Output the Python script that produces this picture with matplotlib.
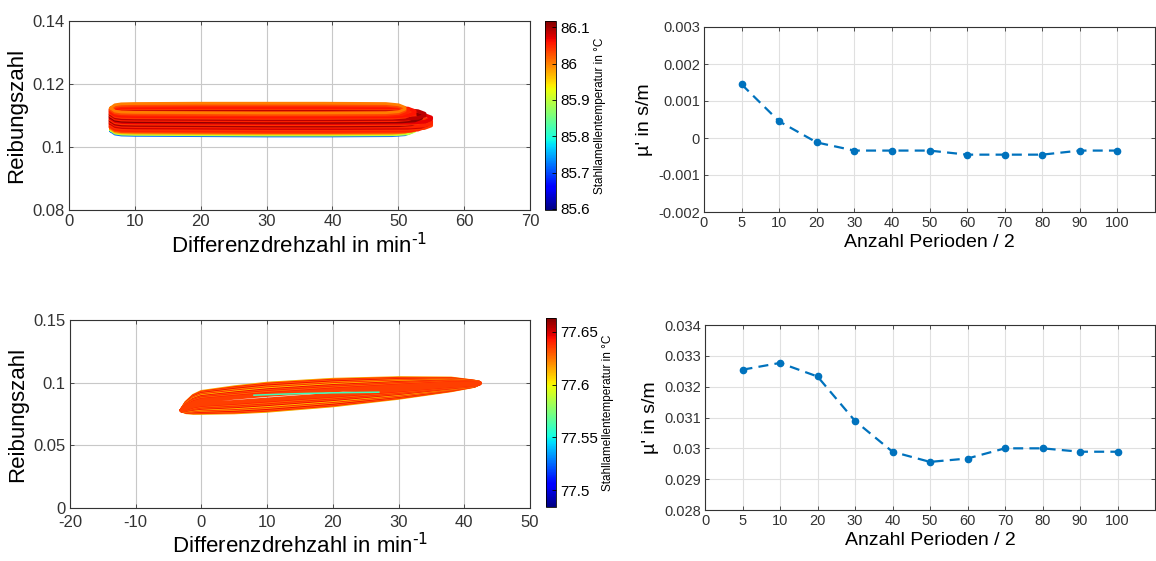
import numpy as np
import matplotlib
matplotlib.use("Agg")
import matplotlib.pyplot as plt
from matplotlib.ticker import FormatStrFormatter
from matplotlib.cm import ScalarMappable
from matplotlib.colors import Normalize

plt.rcParams['font.family'] = ['Liberation Sans', 'DejaVu Sans']
plt.rcParams['axes.unicode_minus'] = False

# --- friction loops, run 1 (one cycle outline, shifted per cycle) ---
loop1_speed = [6.3, 7.0, 8.0, 10, 20, 30, 40, 50, 52, 53]
loop1_upper = [0.1072, 0.1082, 0.1085, 0.1086, 0.1087, 0.1087, 0.1087, 0.1086, 0.1082, 0.1074]
loop1_lower = [0.1072, 0.1062, 0.1059, 0.1058, 0.1057, 0.1056, 0.1056, 0.1057, 0.1060, 0.1068]
cycle1_shift = [-0.0021, -0.0018, -0.0014, -0.0009, -0.0005, 0.0000, 0.0004, 0.0008,
                0.0012, 0.0016, 0.0020, 0.0024, 0.0028, 0.0032, 0.0036, 0.0040,
                0.0044, 0.0048, 0.0052]
cycle1_end = [52, 52.5, 52, 53, 54, 55, 54.5, 55, 53, 54, 55, 53.5, 52.5, 54, 52, 52.5,
              51.5, 51, 51]
cycle1_temp = [85.72, 85.90, 85.98, 86.03, 86.05, 86.04, 86.08, 86.05, 86.10, 86.04,
               86.07, 86.11, 86.05, 86.09, 86.04, 86.06, 86.05, 86.03, 86.00]

# --- friction loops, run 2 (outer envelope, cycles nested inside it) ---
loop2_speed = [-3.0, -2.3, -1.2, 0, 5, 10, 20, 30, 38, 41.5, 42.3]
loop2_upper = [0.0780, 0.0840, 0.0895, 0.0925, 0.0962, 0.0991, 0.1022, 0.1035, 0.1032, 0.1008, 0.0998]
loop2_lower = [0.0780, 0.0765, 0.0760, 0.0760, 0.0764, 0.0777, 0.0820, 0.0880, 0.0940, 0.0975, 0.0995]
cycle2_width = [1.04, 1.0, 0.93, 0.86, 0.79, 0.72, 0.65, 0.58, 0.51, 0.44, 0.37, 0.30, 0.24, 0.18]
cycle2_temp = [77.56, 77.615, 77.64, 77.63, 77.645, 77.62, 77.64, 77.61, 77.645, 77.63,
               77.64, 77.625, 77.64, 77.635]
inner2_speed = [8, 12, 16, 20, 24, 27]
inner2_fric = [0.0900, 0.0908, 0.0914, 0.0919, 0.0922, 0.0924]
inner2_temp = 77.56

# --- mu' versus number of periods ---
period_labels = ['0', '5', '10', '20', '30', '40', '50', '60', '70', '80', '90', '100']
mu1 = [0.00145, 0.00045, -0.00012, -0.00034, -0.00034, -0.00034, -0.00045, -0.00045,
       -0.00045, -0.00034, -0.00034]
mu2 = [0.03255, 0.03277, 0.03233, 0.03089, 0.02989, 0.02956, 0.02967, 0.03000,
       0.03000, 0.02989, 0.02989]

cmap = plt.get_cmap('jet')
blue = '#0072BD'
speed_label = 'Differenzdrehzahl in min$^{\\text{-}1}$'
W, H = 1156, 561
fig = plt.figure(figsize=(W / 100, H / 100), dpi=100)


def box(l, t, r, b):
    return [l / W, 1 - b / H, (r - l) / W, (b - t) / H]


def style_axes(ax, size):
    ax.grid(True, color='#c8c8c8', lw=0.8)
    ax.set_axisbelow(True)
    ax.tick_params(direction='in', labelsize=size, top=True, right=True,
                   length=3, width=0.6, colors='#333333', pad=3)
    for s in ax.spines.values():
        s.set_color('#333333')
        s.set_linewidth(0.8)


def colorbar(cax, norm, ticks, fmt):
    cb = fig.colorbar(ScalarMappable(norm=norm, cmap=cmap), cax=cax)
    cb.set_ticks(ticks)
    cb.ax.yaxis.set_major_formatter(FormatStrFormatter(fmt))
    cb.ax.tick_params(direction='in', labelsize=11, length=3, width=0.6, pad=3)
    cb.outline.set_linewidth(0.6)
    cb.set_label('Stahllamellentemperatur in °C', fontsize=8.5, labelpad=3)


# top left: run 1 hysteresis
ax1 = fig.add_axes(box(69, 21, 530, 210))
norm1 = Normalize(85.597, 86.117)
sp = np.array(loop1_speed)
for dy, x_end, temp in zip(cycle1_shift, cycle1_end, cycle1_temp):
    xs = sp[0] + (sp - sp[0]) * (x_end - sp[0]) / (sp[-1] - sp[0])
    x = np.concatenate([xs, xs[::-1]])
    y = np.concatenate([loop1_lower, loop1_upper[::-1]]) + dy
    ax1.plot(x, y, color=cmap(norm1(temp)), lw=2.6 if temp > 86 else 2.0,
             solid_joinstyle='round', solid_capstyle='round')
ax1.set_xlim(0, 70)
ax1.set_ylim(0.08, 0.14)
ax1.set_xticks(range(0, 71, 10))
ax1.set_yticks([0.08, 0.1, 0.12, 0.14])
ax1.yaxis.set_major_formatter(FormatStrFormatter('%g'))
style_axes(ax1, 12)
ax1.set_xlabel(speed_label, fontsize=16, labelpad=3)
ax1.set_ylabel('Reibungszahl', fontsize=16, labelpad=4)
cax1 = fig.add_axes(box(545, 21, 556, 210))
colorbar(cax1, norm1, [85.6, 85.7, 85.8, 85.9, 86, 86.1], '%g')

# bottom left: run 2 hysteresis
ax2 = fig.add_axes(box(70, 320, 530, 508))
norm2 = Normalize(77.484, 77.663)
up = np.array(loop2_upper)
lo = np.array(loop2_lower)
mid = (up + lo) / 2
half = (up - lo) / 2
x = np.concatenate([loop2_speed, loop2_speed[::-1]])
for k, temp in zip(cycle2_width, cycle2_temp):
    y = np.concatenate([mid - k * half, (mid + k * half)[::-1]])
    ax2.plot(x, y, color=cmap(norm2(temp)), lw=1.6 if k > 1 else 3.0,
             solid_joinstyle='round', solid_capstyle='round')
ax2.plot(inner2_speed, inner2_fric, color=cmap(norm2(inner2_temp)), lw=1.1)
ax2.set_xlim(-20, 50)
ax2.set_ylim(0, 0.15)
ax2.set_xticks(range(-20, 51, 10))
ax2.set_yticks([0, 0.05, 0.1, 0.15])
ax2.yaxis.set_major_formatter(FormatStrFormatter('%g'))
style_axes(ax2, 12)
ax2.tick_params(axis='x', pad=5)
ax2.set_xlabel(speed_label, fontsize=16, labelpad=2)
ax2.set_ylabel('Reibungszahl', fontsize=16, labelpad=4)
cax2 = fig.add_axes(box(546, 318, 556, 507))
colorbar(cax2, norm2, [77.5, 77.55, 77.6, 77.65], '%g')

# right column: mu' over number of half periods
pos = np.arange(1, len(period_labels))
for rect, vals, ylim, yt in [
        (box(704, 27, 1155, 212), mu1, (-0.002, 0.003), [-0.002, -0.001, 0, 0.001, 0.002, 0.003]),
        (box(705, 325, 1155, 510), mu2, (0.028, 0.034), [0.028, 0.029, 0.03, 0.031, 0.032, 0.033, 0.034])]:
    ax = fig.add_axes(rect)
    ax.plot(pos, vals, ls=(0, (4.5, 2.8)), lw=1.6, color=blue,
            marker='o', ms=4.5, mec=blue, mfc=blue)
    ax.set_xlim(0, 12)
    ax.set_ylim(*ylim)
    ax.set_xticks(range(len(period_labels)))
    ax.set_xticklabels(period_labels)
    ax.set_yticks(yt)
    ax.yaxis.set_major_formatter(FormatStrFormatter('%g'))
    style_axes(ax, 10.5)
    ax.grid(True, color='#e0e0e0', lw=0.8)
    ax.set_xlabel('Anzahl Perioden / 2', fontsize=14, labelpad=3)
    ax.set_ylabel("µ' in s/m", fontsize=14, labelpad=4)

fig.savefig('out.png', dpi=100, facecolor='white')
